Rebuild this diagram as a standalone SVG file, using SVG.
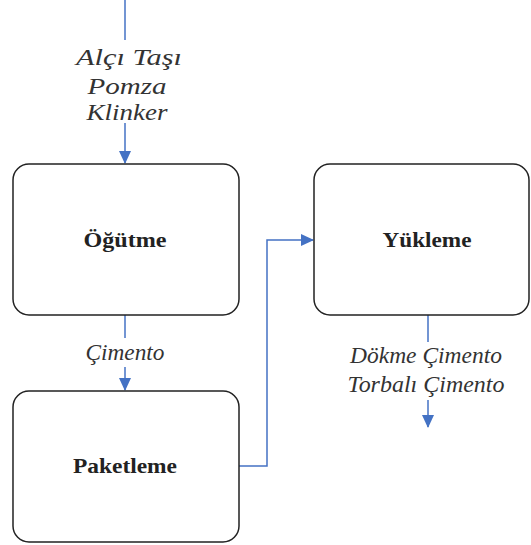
<svg xmlns="http://www.w3.org/2000/svg" width="531" height="545" viewBox="0 0 531 545">
<style>
.box{fill:#fff;stroke:#222;stroke-width:1.5}
.lbl{font-family:"Liberation Serif","Times New Roman",serif;font-weight:bold;font-size:21px;fill:#222;text-anchor:middle}
.it{font-family:"Liberation Serif","Times New Roman",serif;font-style:italic;font-size:24px;fill:#333;text-anchor:middle}
.ln{fill:none;stroke:#4472C4;stroke-width:1.5}
</style>
<defs>
<marker id="ah" markerWidth="13" markerHeight="12" refX="12" refY="6" orient="auto" markerUnits="userSpaceOnUse" viewBox="0 0 13 12">
<path d="M0,0 L13,6 L0,12 Z" fill="#4472C4"/>
</marker>
</defs>
<g id="connectors">
<line class="ln" x1="125" y1="0" x2="125" y2="40"/>
<path class="ln" d="M125,123 L125,163" marker-end="url(#ah)"/>
<line class="ln" x1="125" y1="315" x2="125" y2="338"/>
<path class="ln" d="M125,367 L125,390" marker-end="url(#ah)"/>
<path class="ln" d="M239,466 L267,466 L267,240 L313,240" marker-end="url(#ah)"/>
<line class="ln" x1="428" y1="315" x2="428" y2="342"/>
<path class="ln" d="M428,400 L428,427" marker-end="url(#ah)"/>
</g>
<g id="input-label">
<text class="it" x="129" y="65" textLength="106" lengthAdjust="spacingAndGlyphs">Alçı Taşı</text>
<text class="it" x="127" y="94" textLength="79" lengthAdjust="spacingAndGlyphs">Pomza</text>
<text class="it" x="127" y="120" textLength="81" lengthAdjust="spacingAndGlyphs">Klinker</text>
</g>
<g id="node-ogutme">
<rect class="box" x="13" y="164" width="226" height="151" rx="16"/>
<text class="lbl" x="125" y="247" textLength="83" lengthAdjust="spacingAndGlyphs">Öğütme</text>
</g>
<g id="cimento-label">
<text class="it" x="125" y="360" textLength="79" lengthAdjust="spacingAndGlyphs">Çimento</text>
</g>
<g id="node-paketleme">
<rect class="box" x="13" y="391" width="226" height="151" rx="16"/>
<text class="lbl" x="125" y="473" textLength="104" lengthAdjust="spacingAndGlyphs">Paketleme</text>
</g>
<g id="node-yukleme">
<rect class="box" x="314" y="164" width="215" height="151" rx="16"/>
<text class="lbl" x="427" y="247" textLength="89" lengthAdjust="spacingAndGlyphs">Yükleme</text>
</g>
<g id="output-label">
<text class="it" x="426" y="363" textLength="152" lengthAdjust="spacingAndGlyphs">Dökme Çimento</text>
<text class="it" x="426" y="392" textLength="157" lengthAdjust="spacingAndGlyphs">Torbalı Çimento</text>
</g>
</svg>
